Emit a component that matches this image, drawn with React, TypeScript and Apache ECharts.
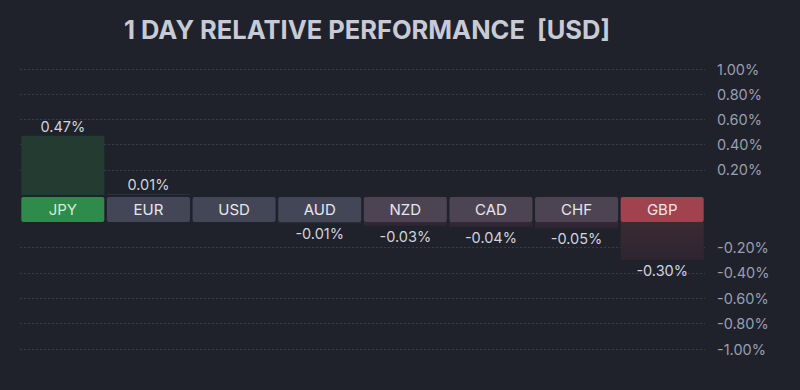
import React, { useEffect, useRef } from "react";
import * as echarts from "echarts";

const currencies = ["JPY", "EUR", "USD", "AUD", "NZD", "CAD", "CHF", "GBP"];
const changes = [0.47, 0.01, 0, -0.01, -0.03, -0.04, -0.05, -0.3];
const upTicks = [0.2, 0.4, 0.6, 0.8, 1.0];
const downTicks = [-0.2, -0.4, -0.6, -0.8, -1.0];

const bandColors: Record<string, string> = {
  JPY: "#2f8b4b",
  EUR: "#434656",
  USD: "#434656",
  AUD: "#434656",
  NZD: "#4d4453",
  CAD: "#4d4453",
  CHF: "#4d4453",
  GBP: "#a1434e",
};
const barColors: Record<string, string> = {
  JPY: "#243b31",
  EUR: "#2c2f3b",
  USD: "#2c2f3b",
  AUD: "#2c2f3b",
  NZD: "#33293a",
  CAD: "#33293a",
  CHF: "#33293a",
  GBP: "#3b2a33",
};

export default function App() {
  const ref = useRef<HTMLDivElement>(null);
  useEffect(() => {
    if (!ref.current) return;
    const chart = echarts.init(ref.current, undefined, { renderer: "svg" });
    const rich: Record<string, any> = {};
    currencies.forEach((c) => {
      rich[c] = {
        backgroundColor: bandColors[c],
        width: 83,
        height: 25,
        lineHeight: 25,
        align: "center",
        borderRadius: 2,
        color: c === "JPY" ? "#d3ecd7" : "#e6e6ec",
        fontSize: 15,
        fontFamily: "Inter",
      };
    });
    const fmtPct = (v: number) => v.toFixed(2) + "%";
    const axisLabelBase = {
      color: "#9a9eb0",
      fontSize: 14.5,
      fontFamily: "Inter",
      margin: 12,
    };
    const splitLine = {
      show: true,
      lineStyle: { color: "#383c48", type: [2, 2] as any, width: 1 },
    };
    chart.setOption({
      animation: false,
      backgroundColor: "#1f222b",
      title: {
        text: "1 DAY RELATIVE PERFORMANCE  [USD]",
        left: 362,
        top: 11,
        textAlign: "center",
        textStyle: {
          color: "#c8cad5",
          fontSize: 25.5,
          fontWeight: "bold",
          fontFamily: "Inter",
        },
      },
      grid: [
        { left: 20, right: 95, top: 69, height: 126 },
        { left: 20, right: 95, top: 222, height: 127 },
      ],
      xAxis: [
        {
          type: "category",
          gridIndex: 0,
          data: currencies,
          position: "bottom",
          axisLine: { show: false },
          axisTick: { show: false },
          axisLabel: {
            interval: 0,
            margin: 2,
            formatter: (v: string) => `{${v}|${v}}`,
            rich,
          },
        },
        {
          type: "category",
          gridIndex: 1,
          data: currencies,
          show: false,
        },
      ],
      yAxis: [
        {
          type: "value",
          gridIndex: 0,
          position: "right",
          min: 0,
          max: 1,
          interval: 0.2,
          axisLine: { show: false },
          axisTick: { show: false },
          splitLine: { ...splitLine, showMinLine: false },
          axisLabel: {
            ...axisLabelBase,
            showMinLabel: false,
            formatter: (v: number) =>
              upTicks.some((t) => Math.abs(t - v) < 1e-6) ? fmtPct(v) : "",
          },
        },
        {
          type: "value",
          gridIndex: 1,
          position: "right",
          min: -1,
          max: 0,
          interval: 0.2,
          axisLine: { show: false },
          axisTick: { show: false },
          splitLine: { ...splitLine, showMaxLine: false },
          axisLabel: {
            ...axisLabelBase,
            showMaxLabel: false,
            formatter: (v: number) =>
              downTicks.some((t) => Math.abs(t - v) < 1e-6) ? fmtPct(v) : "",
          },
        },
      ],
      series: [
        {
          type: "bar",
          xAxisIndex: 0,
          yAxisIndex: 0,
          barWidth: 83,
          data: changes.map((v, i) =>
            v > 0
              ? {
                  value: v,
                  itemStyle: { color: barColors[currencies[i]] },
                }
              : { value: "-", label: { show: false } }
          ),
          label: {
            show: true,
            position: "top",
            distance: 2,
            color: "#d2d4de",
            fontSize: 14.5,
            fontFamily: "Inter",
            formatter: (p: any) => fmtPct(p.value),
          },
        },
        {
          type: "bar",
          xAxisIndex: 1,
          yAxisIndex: 1,
          barWidth: 83,
          data: changes.map((v, i) =>
            v < 0
              ? {
                  value: v,
                  itemStyle: {
                    color: new echarts.graphic.LinearGradient(0, 0, 0, 1, [
                      { offset: 0, color: barColors[currencies[i]] },
                      { offset: 1, color: "#2d2530" },
                    ]),
                  },
                }
              : { value: "-", label: { show: false } }
          ),
          label: {
            show: true,
            position: "bottom",
            distance: 3,
            color: "#d2d4de",
            fontSize: 14.5,
            fontFamily: "Inter",
            formatter: (p: any) => fmtPct(p.value),
          },
        },
      ],
    });
    return () => chart.dispose();
  }, []);
  return (
    <div
      ref={ref}
      style={{ position: "fixed", left: 0, top: 0, width: 800, height: 390 }}
    />
  );
}
